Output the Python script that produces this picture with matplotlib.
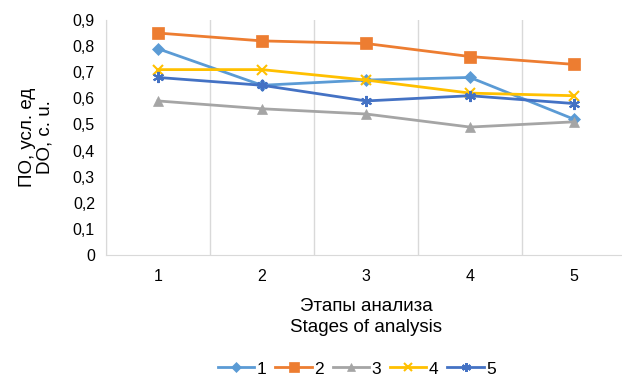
import numpy as np
import matplotlib.pyplot as plt

plt.rcParams['font.family'] = ['Liberation Sans', 'DejaVu Sans']

stages = ['1', '2', '3', '4', '5']
s1 = [0.79, 0.65, 0.67, 0.68, 0.52]
s2 = [0.85, 0.82, 0.81, 0.76, 0.73]
s3 = [0.59, 0.56, 0.54, 0.49, 0.51]
s4 = [0.71, 0.71, 0.67, 0.62, 0.61]
s5 = [0.68, 0.65, 0.59, 0.61, 0.58]
yticks = [0, 0.1, 0.2, 0.3, 0.4, 0.5, 0.6, 0.7, 0.8, 0.9]

series = [
    ('1', s1, '#5B9BD5', 'D', 6),
    ('2', s2, '#ED7D31', 's', 8.5),
    ('3', s3, '#A5A5A5', '^', 7),
    ('4', s4, '#FFC000', 'x', 7),
    ('5', s5, '#4472C4', (6, 2, 0), 8),
]

fig = plt.figure(figsize=(6.22, 3.78), dpi=100)
ax = fig.add_axes([106/622, 1-255/378, 520/622, (255-20)/378])

x = np.arange(len(stages))
for name, vals, col, mk, ms in series:
    ax.plot(x, vals, color=col, lw=2, marker=mk, markersize=ms,
            markeredgewidth=1.5 if mk == 'x' or isinstance(mk, tuple) else 0.5,
            markeredgecolor=col, label=name)

ax.set_xlim(-0.5, 4.5)
ax.set_ylim(0, 0.9)
ax.set_xticks(x)
ax.set_xticklabels(stages, fontsize=11.5)
ax.set_yticks(yticks)
ax.set_yticklabels([('%g' % v).replace('.', ',') for v in yticks], fontsize=11.5)
ax.set_xticks(np.arange(-0.5, 5, 1), minor=True)
ax.grid(True, which='minor', axis='x', color='#D9D9D9', lw=1)
ax.tick_params(which='both', length=0)
ax.tick_params(axis='x', pad=10)
ax.tick_params(axis='y', pad=8)
for sp in ['top', 'right']:
    ax.spines[sp].set_visible(False)
for sp in ['left', 'bottom']:
    ax.spines[sp].set_color('#D9D9D9')

ax.set_xlabel('Этапы анализа\nStages of analysis', fontsize=13.5, labelpad=10,
              linespacing=1.35)
ax.set_ylabel('ПО, усл. ед\nDO, с. u.', fontsize=13.5, labelpad=14, linespacing=1.05)

fig.legend(loc='center', bbox_to_anchor=(357/622, 1-369/378), ncol=5,
           frameon=False, fontsize=12.5, handlelength=2.1, columnspacing=0.5,
           handletextpad=0.15, markerscale=0.8)

fig.savefig('out.png', dpi=100)
